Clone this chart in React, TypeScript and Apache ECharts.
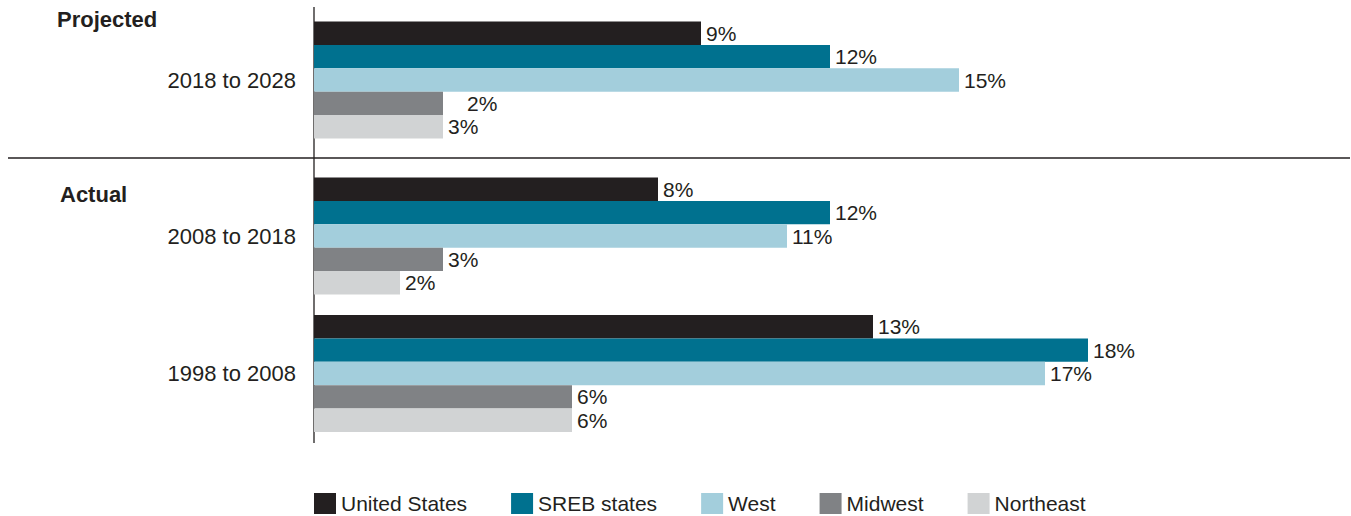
import React, { useEffect, useRef } from "react";
import * as echarts from "echarts";

const projectedPeriods = ["2018 to 2028"];
const actualPeriods = ["2008 to 2018", "1998 to 2008"];
const regions = ["United States", "SREB states", "West", "Midwest", "Northeast"];
const colors = ["#231f20", "#00718f", "#a3cedc", "#808285", "#d1d3d4"];

// values per region: [projected 2018-2028, actual 2008-2018, actual 1998-2008]
const unitedStates = [9, 8, 13];
const srebStates = [12, 12, 18];
const west = [15, 11, 17];
const midwest = [3, 3, 6]; // projected bar is drawn at 3% length in the source, labelled 2%
const northeast = [3, 2, 6];
const unitedStatesLabels = ["9%", "8%", "13%"];
const srebStatesLabels = ["12%", "12%", "18%"];
const westLabels = ["15%", "11%", "17%"];
const midwestLabels = ["2%", "3%", "6%"];
const northeastLabels = ["3%", "2%", "6%"];

const seriesValues = [unitedStates, srebStates, west, midwest, northeast];
const seriesLabels = [unitedStatesLabels, srebStatesLabels, westLabels, midwestLabels, northeastLabels];

const FONT = "'Liberation Sans', Arial, sans-serif";
const INK = "#231f20";

export default function App() {
  const ref = useRef<HTMLDivElement>(null);
  useEffect(() => {
    if (!ref.current) return;
    const chart = echarts.init(ref.current, null, { renderer: "svg" });
    const series: any[] = [];
    regions.forEach((name, i) => {
      const vals = seriesValues[i];
      const labs = seriesLabels[i];
      const mkData = (idxs: number[]) =>
        idxs.map((k) => {
          const item: any = { value: vals[k] };
          const isShifted = i === 3 && k === 0;
          item.label = {
            formatter: () => labs[k],
            distance: isShifted ? 24 : 5,
          };
          return item;
        });
      const common = {
        name,
        type: "bar",
        barWidth: 23.4,
        barGap: "0%",
        itemStyle: { color: colors[i] },
        label: {
          show: true,
          position: "right",
          color: INK,
          fontFamily: FONT,
          fontSize: 21,
        },
      };
      series.push({ ...common, xAxisIndex: 0, yAxisIndex: 0, data: mkData([0]) });
      series.push({ ...common, xAxisIndex: 1, yAxisIndex: 1, data: mkData([1, 2]) });
    });

    const xAxisBase = {
      type: "value",
      min: 0,
      max: 24,
      show: false,
    };
    const yAxisBase = {
      type: "category",
      inverse: true,
      axisLine: { show: false },
      axisTick: { show: false },
      axisLabel: { color: INK, fontFamily: FONT, fontSize: 22, margin: 18 },
    };

    chart.setOption({
      animation: false,
      textStyle: { fontFamily: FONT },
      grid: [
        { left: 314, top: 8, width: 1032, height: 144 },
        { left: 314, top: 167.25, width: 1032, height: 275 },
      ],
      xAxis: [
        { ...xAxisBase, gridIndex: 0 },
        { ...xAxisBase, gridIndex: 1 },
      ],
      yAxis: [
        { ...yAxisBase, gridIndex: 0, data: projectedPeriods },
        { ...yAxisBase, gridIndex: 1, data: actualPeriods },
      ],
      legend: {
        left: 314,
        top: 493,
        padding: 0,
        itemWidth: 22,
        itemHeight: 21,
        itemGap: 44,
        icon: "rect",
        data: regions,
        textStyle: { color: INK, fontFamily: FONT, fontSize: 21, lineHeight: 21 },
        selectedMode: false,
      },
      graphic: [
        {
          type: "line",
          shape: { x1: 8, y1: 158, x2: 1350, y2: 158 },
          style: { stroke: INK, lineWidth: 1.3 },
          silent: true,
        },
        {
          type: "line",
          shape: { x1: 314, y1: 7, x2: 314, y2: 443 },
          style: { stroke: INK, lineWidth: 1.3 },
          silent: true,
        },
        {
          type: "text",
          left: 57,
          top: 8,
          style: { text: "Projected", fontFamily: FONT, fontWeight: "bold", fontSize: 22, fill: INK },
        },
        {
          type: "text",
          left: 60,
          top: 183,
          style: { text: "Actual", fontFamily: FONT, fontWeight: "bold", fontSize: 22, fill: INK },
        },
      ],
      series,
    });
    return () => chart.dispose();
  }, []);
  return (
    <div
      ref={ref}
      style={{ position: "fixed", left: 0, top: 0, width: 1351, height: 516, background: "#fff" }}
    />
  );
}
